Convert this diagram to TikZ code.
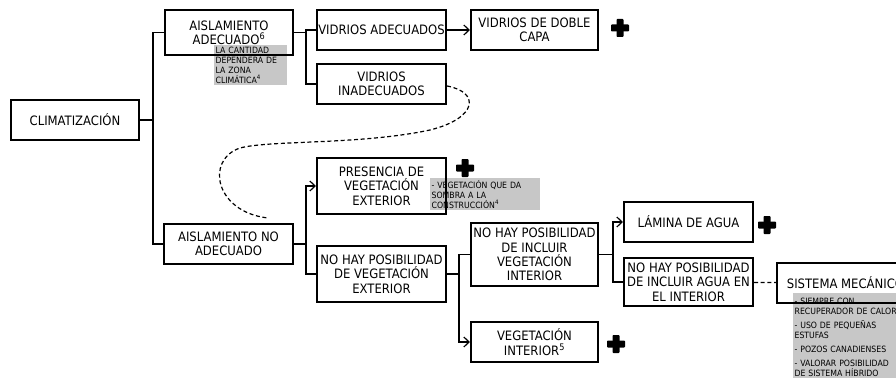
\documentclass[tikz,border=0pt]{standalone}
\usepackage{fontspec}
\setmainfont{DejaVu Sans Condensed}
\usetikzlibrary{arrows.meta}

\tikzset{
  box/.style={draw, line width=1.5pt, align=center, inner sep=1pt,
    minimum width=96.75pt, minimum height=30pt,
    font=\fontsize{9.7}{10.8}\selectfont},
  link/.style={line width=0.9pt},
  linkarrow/.style={link, -{Straight Barb[length=4pt,width=7.5pt]}},
  note/.style={fill=black!22, anchor=north west, align=left, inner sep=1pt,
    font=\fontsize{6.5}{7.4}\selectfont},
  plussign/.pic={
    \fill[rounded corners=0.6pt] (-9,-3.5) rectangle (9,3.5);
    \fill[rounded corners=0.6pt] (-3.5,-9) rectangle (3.5,9);
  }
}

\begin{document}
\begin{tikzpicture}[x=0.75pt,y=-0.75pt]
\useasboundingbox (0,0) rectangle (896,378);

% Notes first, boxes go on top of them
\node[note, text width=52.75pt, minimum height=30pt] (notaZona) at (214,45)
  {LA CANTIDAD\\DEPENDERÁ DE\\LA ZONA\\CLIMÁTICA\textsuperscript{4}};
\node[note, text width=80.5pt, minimum height=24pt] (notaSombra) at (430,178)
  {- VEGETACIÓN QUE DA\\SOMBRA A LA\\CONSTRUCCIÓN\textsuperscript{4}};
\node[note, text width=90pt, minimum height=66pt] (notaSistema) at (793,293)
  {- SIEMPRE CON\\RECUPERADOR DE CALOR\\[3pt]
   - USO DE PEQUEÑAS\\ESTUFAS\\[3pt]
   - POZOS CANADIENSES\\[3pt]
   - VALORAR POSIBILIDAD\\DE SISTEMA HÍBRIDO};

% Root
\node[box, minimum width=96pt] (clima) at (75,120) {CLIMATIZACIÓN};

% Aislamiento adecuado
\node[box, minimum width=96pt, minimum height=33.75pt] (aislAd) at (229,32.5)
  {AISLAMIENTO\\ADECUADO\textsuperscript{6}};
\node[box] (vidAd) at (381.5,30) {VIDRIOS ADECUADOS};
\node[box, minimum width=95.25pt] (vidDoble) at (534.5,30) {VIDRIOS DE DOBLE\\CAPA};
\node[box] (vidInad) at (381.5,84) {VIDRIOS\\INADECUADOS};

% Aislamiento no adecuado
\node[box] (aislNo) at (228.5,244) {AISLAMIENTO NO\\ADECUADO};
\node[box, minimum height=42pt] (vegExt) at (381.5,186) {PRESENCIA DE\\VEGETACIÓN\\EXTERIOR};
\node[box, minimum height=42pt] (noVegExt) at (381.5,274) {NO HAY POSIBILIDAD\\DE VEGETACIÓN\\EXTERIOR};
\node[box, minimum width=95.25pt, minimum height=47.25pt] (noVegInt) at (534.5,254.5)
  {NO HAY POSIBILIDAD\\DE INCLUIR\\VEGETACIÓN\\INTERIOR};
\node[box, minimum width=95.25pt] (vegInt) at (534.5,342) {VEGETACIÓN\\INTERIOR\textsuperscript{5}};
\node[box] (lamina) at (688.5,222) {LÁMINA DE AGUA};
\node[box, minimum height=36pt] (noAgua) at (688.5,282)
  {NO HAY POSIBILIDAD\\DE INCLUIR AGUA EN\\EL INTERIOR};
\node[box, minimum width=103pt] (sistema) at (845.5,283) {SISTEMA MECÁNICO};

% Tree connectors
\draw[link] (clima.east) -- ++(13,0) coordinate (c1) |- (aislAd.west);
\draw[link] (c1) |- (aislNo.west);

\draw[link] (aislAd.east) -- ++(12,0) coordinate (c2) |- (vidAd.west);
\draw[link] (c2) |- (vidInad.west);
\draw[linkarrow] (vidAd) -- (vidDoble);

\draw[link] (aislNo.east) -- ++(12,0) coordinate (c3);
\draw[linkarrow] (c3) |- (vegExt.west);
\draw[link] (c3) |- (noVegExt.west);

\draw[link] (noVegExt.east) -- ++(12,0) coordinate (c4);
\draw[link] (c4) |- (noVegInt.west);
\draw[linkarrow] (c4) |- (vegInt.west);

\draw[link] (noVegInt.east) -- ++(14,0) coordinate (c5);
\draw[linkarrow] (c5) |- (lamina.west);
\draw[link] (c5) |- (noAgua.west);

% Dashed links
\coordinate (finCurva) at (268,218);
\draw[link, dash pattern=on 3pt off 2pt] ([yshift=-1.5pt]vidInad.east)
  .. controls (480,92) and (478,118) .. (430,130)
  .. controls (360,145) and (270,140) .. (240,148)
  .. controls (205,160) and (215,212) .. (finCurva);
\draw[link, dash pattern=on 3pt off 2pt] (noAgua) -- (sistema);

% Plus marks
\pic at (620,28) {plussign};
\pic at (465,168) {plussign};
\pic at (767,225) {plussign};
\pic at (616,344) {plussign};
\end{tikzpicture}
\end{document}
